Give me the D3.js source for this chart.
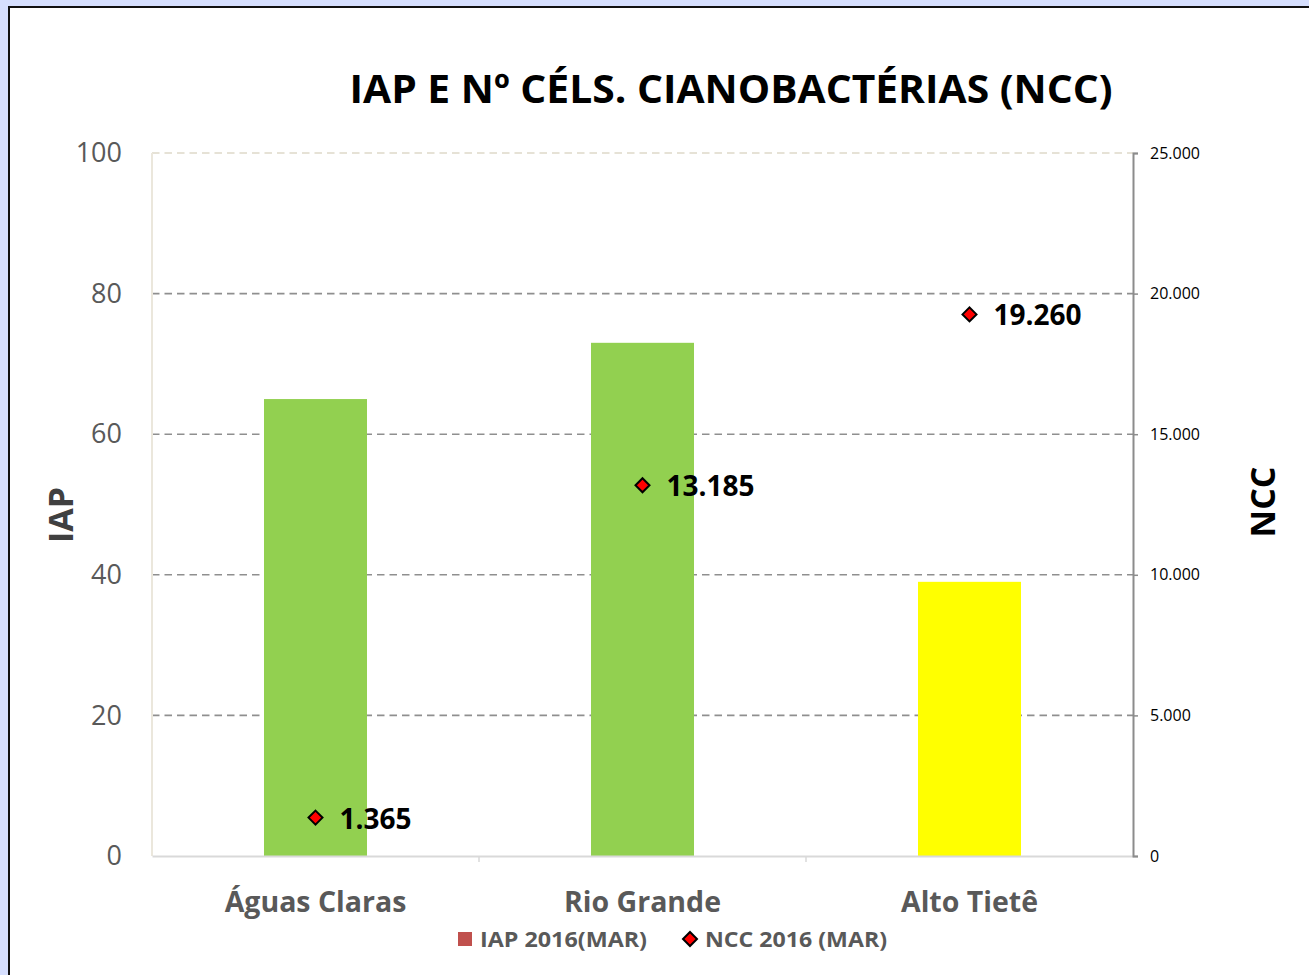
<!DOCTYPE html>
<html>
<head>
	<title>IAP e NCC</title>
	<meta charset="utf-8">
	<script src="https://cdnjs.cloudflare.com/ajax/libs/d3/7.8.5/d3.min.js"></script>
	<style>
		html, body { margin: 0; padding: 0; background: #d6dffe; }
		svg { display: block; }
		text { font-family: "Open Sans", "Noto Sans", sans-serif; }
	</style>
</head>
<body>
	<script type="text/javascript">

		// dados
		let categories = ['Águas Claras', 'Rio Grande', 'Alto Tietê'];
		let iapValues = [65, 73, 39];
		let iapColors = ['#92d050', '#92d050', '#ffff00'];
		let nccValues = [1365, 13185, 19260];
		let leftTicks = [0, 20, 40, 60, 80, 100];
		let rightTicks = [0, 5000, 10000, 15000, 20000, 25000];

		let ptBR = d3.formatLocale({decimal: ',', thousands: '.', grouping: [3], currency: ['R$', '']});
		let fmt = ptBR.format(',d');

		let W = 1309, H = 975;
		let plot = {left: 152, right: 1133, top: 153, bottom: 856};

		let svg = d3.select('body').append('svg')
			.attr('width', W)
			.attr('height', H);

		// moldura
		svg.append('rect')
			.attr('x', 9).attr('y', 7)
			.attr('width', W + 10).attr('height', H + 10)
			.attr('fill', '#ffffff')
			.attr('stroke', '#111').attr('stroke-width', 2);

		let x = d3.scaleBand()
			.domain(categories)
			.range([plot.left, plot.right])
			.paddingInner(0)
			.paddingOuter(0);

		let y = d3.scaleLinear().domain([0, 100]).range([plot.bottom, plot.top]);
		let y2 = d3.scaleLinear().domain([0, 25000]).range([plot.bottom, plot.top]);

		// grade
		svg.append('g').selectAll('line')
			.data(leftTicks.filter(d => d > 0))
			.enter().append('line')
			.attr('x1', plot.left).attr('x2', plot.right)
			.attr('y1', d => y(d)).attr('y2', d => y(d))
			.attr('stroke', d => d === 100 ? '#e6e2d6' : '#8f8f8f')
			.attr('stroke-width', d => d === 100 ? 2 : 1.6)
			.attr('stroke-dasharray', '7.5,5');

		// eixo esquerdo (linha clara)
		svg.append('line')
			.attr('x1', plot.left).attr('x2', plot.left)
			.attr('y1', plot.top).attr('y2', plot.bottom)
			.attr('stroke', '#ebe7dc').attr('stroke-width', 2);

		// barras
		let barW = x.bandwidth() * 0.315;
		svg.append('g').selectAll('rect')
			.data(iapValues)
			.enter().append('rect')
			.attr('x', (d, i) => x(categories[i]) + (x.bandwidth() - barW) / 2)
			.attr('y', d => y(d))
			.attr('width', barW)
			.attr('height', d => plot.bottom - y(d))
			.attr('fill', (d, i) => iapColors[i]);

		// eixo x
		let xAxis = svg.append('g')
			.attr('transform', `translate(0,${plot.bottom})`)
			.call(d3.axisBottom(x).tickSize(0).tickFormat(''));
		xAxis.select('.domain').attr('stroke', '#d9d9d9').attr('stroke-width', 2);
		xAxis.selectAll('.cat-tick')
			.data(categories.slice(1))
			.enter().append('line')
			.attr('class', 'cat-tick')
			.attr('x1', d => x(d)).attr('x2', d => x(d))
			.attr('y1', 0).attr('y2', 6)
			.attr('stroke', '#d9d9d9').attr('stroke-width', 1.5);

		svg.append('g').selectAll('text')
			.data(categories)
			.enter().append('text')
			.attr('x', d => x(d) + x.bandwidth() / 2)
			.attr('y', 912)
			.attr('text-anchor', 'middle')
			.attr('font-size', 28.5)
			.attr('font-weight', 'bold')
			.attr('fill', '#595959')
			.text(d => d);

		// eixo esquerdo rótulos
		let yAxis = svg.append('g')
			.attr('transform', `translate(${plot.left},0)`)
			.call(d3.axisLeft(y).tickValues(leftTicks).tickSize(0).tickPadding(30));
		yAxis.select('.domain').remove();
		yAxis.selectAll('text')
			.attr('font-family', '"Open Sans", sans-serif')
			.attr('font-size', 27)
			.attr('fill', '#595959');

		// eixo direito
		let y2Axis = svg.append('g')
			.attr('transform', `translate(${plot.right},0)`)
			.call(d3.axisRight(y2).tickValues(rightTicks).tickSize(5).tickPadding(12).tickFormat(fmt));
		y2Axis.select('.domain').attr('stroke', '#8c8c8c').attr('stroke-width', 2);
		y2Axis.selectAll('line').attr('stroke', '#8c8c8c').attr('stroke-width', 1.5);
		y2Axis.selectAll('text')
			.attr('font-family', '"Open Sans", sans-serif')
			.attr('font-size', 16)
			.attr('fill', '#000');

		// pontos NCC
		let diamond = d3.symbol().type(d3.symbolDiamond2).size(125);
		let pts = svg.append('g').selectAll('g')
			.data(nccValues)
			.enter().append('g')
			.attr('transform', (d, i) => `translate(${x(categories[i]) + x.bandwidth() / 2},${y2(d)})`);
		pts.append('path')
			.attr('d', diamond)
			.attr('fill', '#ff0000')
			.attr('stroke', '#000')
			.attr('stroke-width', 2);
		pts.append('text')
			.attr('x', 24)
			.attr('y', 11)
			.attr('font-size', 28)
			.attr('font-weight', 'bold')
			.attr('fill', '#000')
			.text(d => fmt(d));

		// títulos
		svg.append('text')
			.attr('x', 731).attr('y', 103)
			.attr('text-anchor', 'middle')
			.attr('font-size', 40)
			.attr('font-weight', 'bold')
			.attr('fill', '#000')
			.attr('textLength', 763)
			.attr('lengthAdjust', 'spacingAndGlyphs')
			.text('IAP E Nº CÉLS. CIANOBACTÉRIAS (NCC)');

		svg.append('text')
			.attr('transform', 'translate(73,515) rotate(-90)')
			.attr('text-anchor', 'middle')
			.attr('font-size', 34)
			.attr('font-weight', 'bold')
			.attr('fill', '#404040')
			.text('IAP');

		svg.append('text')
			.attr('transform', 'translate(1275,502) rotate(-90)')
			.attr('text-anchor', 'middle')
			.attr('font-size', 34)
			.attr('font-weight', 'bold')
			.attr('fill', '#000')
			.text('NCC');

		// legenda
		let leg = svg.append('g');
		leg.append('rect')
			.attr('x', 458).attr('y', 932)
			.attr('width', 14).attr('height', 14)
			.attr('fill', '#c0504d');
		leg.append('text')
			.attr('x', 480).attr('y', 947)
			.attr('font-size', 22)
			.attr('font-weight', 'bold')
			.attr('fill', '#595959')
			.attr('textLength', 167)
			.attr('lengthAdjust', 'spacingAndGlyphs')
			.text('IAP 2016(MAR)');
		leg.append('path')
			.attr('transform', 'translate(690,939)')
			.attr('d', diamond)
			.attr('fill', '#ff0000')
			.attr('stroke', '#000')
			.attr('stroke-width', 2);
		leg.append('text')
			.attr('x', 705).attr('y', 947)
			.attr('font-size', 22)
			.attr('font-weight', 'bold')
			.attr('fill', '#595959')
			.attr('textLength', 182)
			.attr('lengthAdjust', 'spacingAndGlyphs')
			.text('NCC 2016 (MAR)');

	</script>
</body>
</html>
